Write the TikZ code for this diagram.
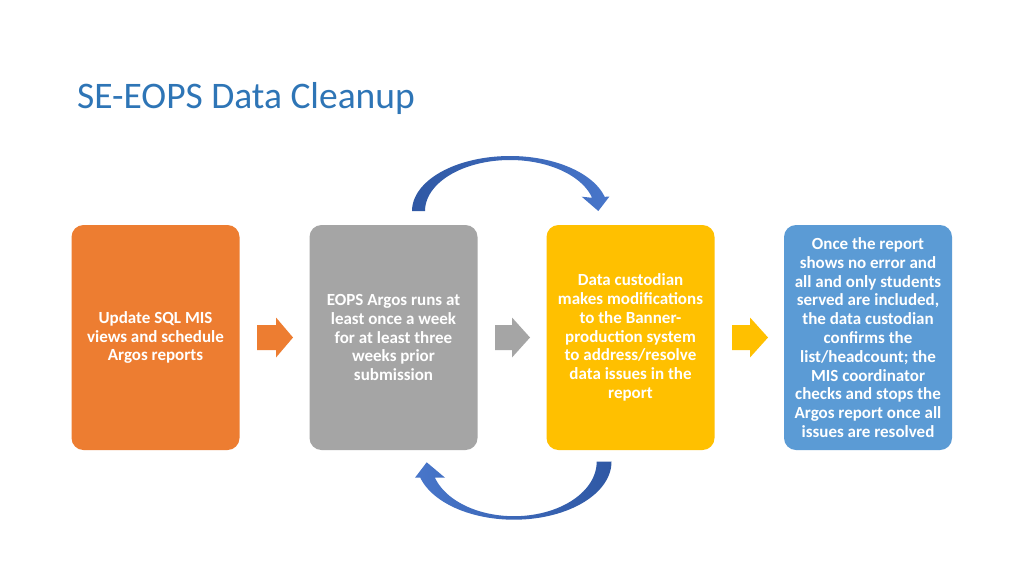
\documentclass[tikz,border=0pt]{standalone}
\usepackage{fontspec}
\setmainfont{Carlito}
\definecolor{titleblue}{RGB}{46,117,182}
\definecolor{boxorange}{RGB}{237,125,49}
\definecolor{boxgray}{RGB}{165,165,165}
\definecolor{boxgold}{RGB}{255,192,0}
\definecolor{boxblue}{RGB}{91,155,213}
\definecolor{arcdark}{RGB}{47,88,164}
\definecolor{arclight}{RGB}{72,118,202}
\tikzset{
  stagebox/.style={rounded corners=12pt, minimum width=168pt, minimum height=225pt,
    inner sep=0pt, text=white, align=center,
    font=\fontsize{17}{18.8}\selectfont\bfseries},
}
\begin{document}
\begin{tikzpicture}[x=1pt,y=-1pt]
\useasboundingbox[fill=white] (0,0) rectangle (1024,576);
% title
\node[anchor=base west, inner sep=0pt, text=titleblue,
  font=\fontsize{37.5}{44}\selectfont] (title) at (77,108) {SE-EOPS Data Cleanup};
% boxes
\node[stagebox, fill=boxorange] (b1) at (155.5,337.5)
  {Update SQL MIS\\views and schedule\\Argos reports};
\node[stagebox, fill=boxgray] (b2) at (393.5,337.5)
  {EOPS Argos runs at\\least once a week\\for at least three\\weeks prior\\submission};
\node[stagebox, fill=boxgold] (b3) at (630.5,337.5)
  {Data custodian\\makes modifications\\to the Banner-\\production system\\to address/resolve\\data issues in the\\report};
\node[stagebox, fill=boxblue] (b4) at (868,337.5)
  {Once the report\\shows no error and\\all and only students\\served are included,\\the data custodian\\confirms the\\list/headcount; the\\MIS coordinator\\checks and stops the\\Argos report once all\\issues are resolved};
% block arrows
\fill[boxorange] (257,325)--(276,325)--(276,317.5)--(293,337.5)--(276,357.5)--(276,350)--(257,350)--cycle;
\fill[boxgray] (495,325)--(512,325)--(512,317.5)--(530,337.5)--(512,357.5)--(512,350)--(495,350)--cycle;
\fill[boxgold] (732,325)--(750,325)--(750,317.5)--(768,337.5)--(750,357.5)--(750,350)--(732,350)--cycle;
% curved arrow top
\shade[left color=arcdark, right color=arclight]
  plot[domain=180:15,samples=60] ({510+98*cos(\x)},{211-55*sin(\x)})
  -- (609.3,196.7) -- (598.3,211) -- (581.7,196.7)
  -- plot[domain=15:180,samples=60] ({510+85*cos(\x)},{211-51*sin(\x)}) -- cycle;
% curved arrow bottom
\shade[left color=arclight, right color=arcdark]
  plot[domain=0:164,samples=60] ({514+97.5*cos(\x)},{461.7+58*sin(\x)})
  -- (415,477.7) -- (426.7,462.3) -- (445,477.7)
  -- plot[domain=162.9:0,samples=60] ({514+82.7*cos(\x)},{461.7+54.5*sin(\x)}) -- cycle;
\end{tikzpicture}
\end{document}
